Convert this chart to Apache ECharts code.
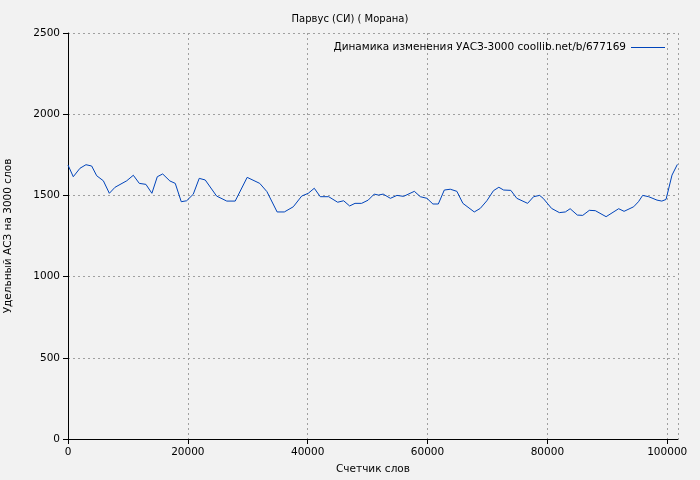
<!DOCTYPE html>
<html>
<head>
<meta charset="utf-8">
<script src="https://cdn.jsdelivr.net/npm/echarts@6/dist/echarts.min.js"></script>
<style>html,body{margin:0;padding:0;background:#f2f2f2}#main{width:700px;height:480px}</style>
</head>
<body>
<div id="main"></div>
<script>
// счетчик слов
var words = [0, 880, 2000, 3000, 3950, 4790, 5900, 6900, 7850, 9800, 10900, 11900, 13000, 14000, 14900, 15800, 17000, 17900, 18900, 19800,
	20900, 21900, 22900, 24800, 26500, 27900, 29900, 32000, 33200, 34900, 36100, 37600, 39000, 40100, 41100, 42100, 43500, 45000, 46000, 47000,
	47900, 49000, 50100, 51100, 51800, 52600, 53800, 54900, 56000, 57800, 58800, 59900, 60900, 61800, 62800, 63800, 64900, 65900, 67800, 68800,
	69900, 71000, 71900, 72700, 73900, 74900, 76700, 77700, 78700, 79300, 80700, 82000, 83000, 83800, 85000, 85900, 87000, 88000, 89800, 91900,
	92800, 94400, 95200, 95900, 96900, 98300, 99100, 99800, 100800, 101700];
// удельный АСЗ
var asz = [1687, 1615, 1667, 1689, 1681, 1621, 1590, 1513, 1550, 1590, 1624, 1574, 1568, 1513, 1615, 1632, 1589, 1574, 1461, 1467,
	1507, 1605, 1595, 1496, 1465, 1465, 1611, 1574, 1523, 1398, 1398, 1430, 1496, 1513, 1544, 1492, 1492, 1458, 1467, 1435,
	1451, 1451, 1471, 1508, 1502, 1508, 1482, 1500, 1494, 1525, 1492, 1482, 1447, 1447, 1533, 1538, 1525, 1451, 1398, 1420,
	1467, 1529, 1550, 1533, 1531, 1482, 1451, 1492, 1500, 1482, 1420, 1394, 1398, 1418, 1379, 1377, 1408, 1406, 1369, 1418,
	1402, 1430, 1461, 1500, 1492, 1471, 1465, 1475, 1625, 1691];

var points = [];
for (var i = 0; i < words.length; i++) {
	points.push([words[i], asz[i]]);
}

var chart = echarts.init(document.getElementById('main'));
var fnt = 'DejaVu Sans';
var grid_line = { show : true, lineStyle : { color : '#a0a0a0', type : [2, 3], width : 1 } };
chart.setOption({
	backgroundColor : '#f2f2f2',
	animation : false,
	textStyle : { fontFamily : fnt },
	title : {
		text : 'Парвус (СИ) ( Морана)',
		left : 'center',
		top : 9,
		textStyle : { fontSize : 10, fontWeight : 'normal', color : '#000', fontFamily : fnt }
	},
	legend : {
		top : 37,
		right : 30,
		itemWidth : 34,
		itemHeight : 1,
		itemGap : 8,
		align : 'right',
		icon : 'rect',
		textStyle : { fontSize : 10.5, color : '#000', fontFamily : fnt },
		data : ['Динамика изменения УАСЗ-3000 coollib.net/b/677169']
	},
	grid : { left : 68, right : 22, top : 33, bottom : 41, containLabel : false, outerBoundsMode : 'none' },
	xAxis : {
		type : 'value',
		min : 0,
		max : 101800,
		interval : 20000,
		name : 'Счетчик слов',
		nameLocation : 'middle',
		nameGap : 25,
		nameTextStyle : { fontSize : 10.5, color : '#000' },
		axisLine : { lineStyle : { color : '#000' } },
		axisTick : { lineStyle : { color : '#000' } },
		axisLabel : { fontSize : 10.5, color : '#000', showMaxLabel : false, formatter : function(v) { return String(v); } },
		splitLine : grid_line
	},
	yAxis : {
		type : 'value',
		min : 0,
		max : 2500,
		interval : 500,
		name : 'Удельный АСЗ на 3000 слов',
		nameLocation : 'middle',
		nameGap : 54,
		nameTextStyle : { fontSize : 10.5, color : '#000' },
		axisLine : { show : true, lineStyle : { color : '#000' } },
		axisTick : { show : true, lineStyle : { color : '#000' } },
		axisLabel : { fontSize : 10.5, color : '#000', formatter : function(v) { return String(v); } },
		splitLine : grid_line
	},
	series : [ {
		name : 'Динамика изменения УАСЗ-3000 coollib.net/b/677169',
		type : 'line',
		data : points,
		symbol : 'none',
		lineStyle : { color : '#0044bb', width : 1 },
		itemStyle : { color : '#0044bb' }
	} ]
});
</script>
</body>
</html>
